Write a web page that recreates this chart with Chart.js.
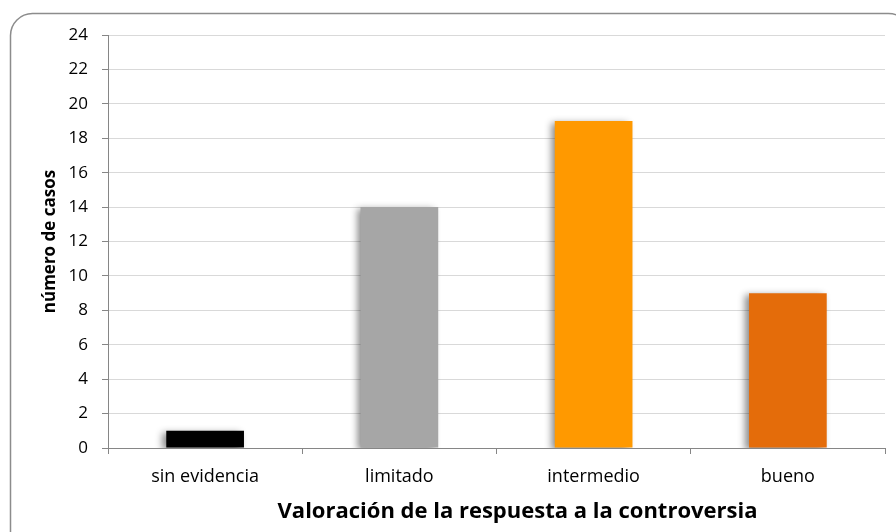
<!DOCTYPE html>
<html>
<head>
<meta charset="utf-8">
<script src="https://cdn.jsdelivr.net/npm/chart.js@4"></script>
<style>
    html, body { margin: 0; padding: 0; background: #fff; }
    #wrap { width: 896px; height: 532px; }
</style>
</head>
<body>
<div id="wrap"><canvas id="chart" width="896" height="532"></canvas></div>
<script>
const categories = ['sin evidencia', 'limitado', 'intermedio', 'bueno'];
const casos = [1, 14, 19, 9];
const barColors = ['#000000', '#A6A6A6', '#FF9900', '#E46C0A'];
const yTicks = [0, 2, 4, 6, 8, 10, 12, 14, 16, 18, 20, 22, 24];
const xTitle = 'Valoración de la respuesta a la controversia';
const yTitle = 'número de casos';

const fontFamily = "'Open Sans', 'Liberation Sans', sans-serif";

// rounded frame around the whole chart
const framePlugin = {
    id: 'frame',
    beforeDraw(chart) {
        const ctx = chart.ctx;
        ctx.save();
        ctx.fillStyle = '#ffffff';
        ctx.fillRect(0, 0, chart.width, chart.height);
        ctx.beginPath();
        ctx.roundRect(10.5, 13.5, 900, 540, 22);
        ctx.strokeStyle = '#8c8c8c';
        ctx.lineWidth = 1.5;
        ctx.stroke();
        ctx.restore();
    },
    // x axis title, sits a bit right of the plot centre in the original
    afterDraw(chart) {
        const ctx = chart.ctx;
        const area = chart.chartArea;
        ctx.save();
        ctx.font = 'bold 22px ' + fontFamily;
        ctx.fillStyle = '#000';
        ctx.textAlign = 'center';
        ctx.textBaseline = 'middle';
        ctx.fillText(xTitle, (area.left + area.right) / 2 + 21, 512);
        ctx.restore();
    }
};

// soft shadow to the left of each bar
const shadowPlugin = {
    id: 'barShadow',
    beforeDatasetsDraw(chart) {
        const ctx = chart.ctx;
        ctx.save();
        ctx.shadowColor = 'rgba(0,0,0,0.45)';
        ctx.shadowBlur = 7;
        ctx.shadowOffsetX = -4;
        ctx.shadowOffsetY = 2;
    },
    afterDatasetsDraw(chart) {
        chart.ctx.restore();
    }
};

const ctx = document.getElementById('chart').getContext('2d');
const chart = new Chart(ctx, {
    type: 'bar',
    data: {
        labels: categories,
        datasets: [{
            label: yTitle,
            data: casos,
            backgroundColor: barColors,
            borderWidth: 0,
            categoryPercentage: 1,
            barPercentage: 0.4
        }]
    },
    options: {
        responsive: false,
        animation: false,
        layout: {
            padding: { left: 35, top: 35, right: 11, bottom: 0 }
        },
        plugins: {
            legend: { display: false },
            tooltip: { enabled: false }
        },
        scales: {
            x: {
                offset: true,
                grid: {
                    offset: true,
                    drawOnChartArea: false,
                    tickLength: 6,
                    tickColor: '#868686'
                },
                border: { color: '#868686', width: 1 },
                ticks: {
                    color: '#000',
                    padding: 12,
                    font: { family: fontFamily, size: 18 }
                },
                afterFit: function(scale) {
                    scale.height = 84;
                }
            },
            y: {
                min: 0,
                max: 24,
                afterBuildTicks: function(scale) {
                    scale.ticks = yTicks.map(v => ({ value: v }));
                },
                grid: {
                    color: '#d9d9d9',
                    tickLength: 6,
                    tickColor: '#868686'
                },
                border: { color: '#868686', width: 1 },
                ticks: {
                    color: '#000',
                    padding: 14,
                    font: { family: fontFamily, size: 17 }
                },
                title: {
                    display: true,
                    text: yTitle,
                    color: '#000',
                    padding: { top: 5, bottom: 4 },
                    font: { family: fontFamily, size: 17, weight: 'bold' }
                },
                afterFit: function(scale) {
                    scale.width = 73;
                }
            }
        }
    },
    plugins: [framePlugin, shadowPlugin]
});
</script>
</body>
</html>
